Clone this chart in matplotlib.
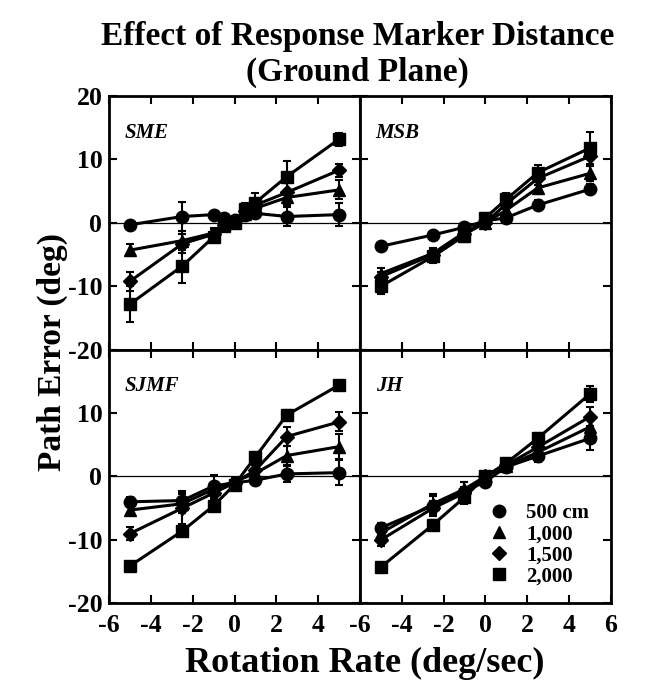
import matplotlib.pyplot as plt
from matplotlib.lines import Line2D

x_sme = [-5, -2.5, -1, -0.5, 0, 0.5, 1, 2.5, 5]
x_std = [-5, -2.5, -1, 0, 1, 2.5, 5]

labels = ['500 cm', '1,000', '1,500', '2,000']
markers = ['o', '^', 'D', 's']
msizes = [9, 9, 7, 8.5]

# path error (deg), one list per marker distance
sme = [[-0.3, 1.0, 1.3, 0.8, 0.4, 1.2, 1.5, 1.0, 1.3],
       [-4.3, -2.8, -1.6, -0.4, 0.2, 1.4, 2.3, 4.0, 5.2],
       [-9.2, -3.3, -1.8, -0.4, 0.3, 1.8, 2.8, 4.8, 8.3],
       [-12.8, -6.8, -2.2, -0.5, 0.0, 2.2, 3.2, 7.3, 13.2]]
sme_err = [[0.5, 2.3, 0.6, 0.5, 0.5, 0.6, 0.8, 1.5, 1.8],
           [1.0, 1.5, 0.8, 0.6, 0.6, 0.6, 0.8, 1.2, 1.5],
           [1.5, 1.5, 0.8, 0.6, 0.6, 0.8, 1.0, 1.5, 1.0],
           [2.8, 2.7, 0.8, 0.6, 0.6, 1.0, 1.5, 2.5, 1.0]]

msb = [[-3.7, -1.9, -0.7, 0.3, 0.8, 2.8, 5.3],
       [-8.0, -4.8, -1.5, 0.0, 2.0, 5.5, 7.8],
       [-8.5, -5.0, -1.8, 0.0, 3.0, 7.0, 10.5],
       [-10.0, -5.3, -2.0, 0.8, 3.7, 7.9, 11.8]]
msb_err = [[0.5, 0.6, 0.6, 0.6, 0.6, 0.8, 0.8],
           [0.8, 0.8, 0.8, 0.6, 0.8, 1.0, 1.2],
           [0.8, 0.8, 0.8, 0.6, 0.8, 1.0, 1.5],
           [1.2, 1.0, 1.0, 0.8, 1.0, 1.2, 2.5]]

sjmf = [[-4.0, -3.8, -1.5, -1.0, -0.6, 0.4, 0.6],
        [-5.3, -4.3, -2.0, -0.8, 0.5, 3.3, 4.7],
        [-9.0, -5.0, -2.6, -1.0, 1.0, 6.3, 8.6],
        [-14.1, -8.6, -4.6, -1.3, 3.1, 9.7, 14.4]]
sjmf_err = [[0.8, 1.5, 1.8, 0.6, 0.6, 1.2, 2.0],
            [0.8, 1.5, 1.0, 0.6, 0.6, 1.5, 2.0],
            [1.0, 2.5, 1.0, 0.6, 0.8, 1.5, 1.5],
            [0.6, 0.8, 0.8, 0.6, 0.8, 0.8, 0.6]]

jh = [[-8.1, -4.6, -2.4, -0.8, 1.5, 3.2, 6.0],
      [-8.9, -4.3, -2.0, 0.0, 1.6, 3.8, 7.8],
      [-10.0, -5.0, -2.6, 0.0, 1.8, 4.6, 9.4],
      [-14.3, -7.6, -3.3, 0.0, 2.1, 6.0, 13.0]]
jh_err = [[0.8, 1.5, 1.5, 0.6, 0.6, 1.0, 1.8],
          [0.8, 1.5, 1.2, 0.6, 0.6, 1.0, 1.5],
          [1.0, 1.2, 1.0, 0.6, 0.6, 1.0, 1.5],
          [0.6, 0.8, 1.0, 0.6, 0.6, 0.8, 1.2]]

panels = [('SME', x_sme, sme, sme_err),
          ('MSB', x_std, msb, msb_err),
          ('SJMF', x_std, sjmf, sjmf_err),
          ('JH', x_std, jh, jh_err)]

plt.rcParams['font.family'] = 'Liberation Serif'
plt.rcParams['font.weight'] = 'bold'

fig, axes = plt.subplots(2, 2, figsize=(6.66, 6.91), dpi=100)
fig.subplots_adjust(left=0.164, right=0.917, top=0.861, bottom=0.127,
                    wspace=0, hspace=0)

for k, (name, xs, ys, errs) in enumerate(panels):
    ax = axes.flat[k]
    ax.axhline(0, color='black', lw=0.9, zorder=1)
    for i in range(4):
        ax.errorbar(xs, ys[i], yerr=errs[i], color='black', lw=2.2,
                    marker=markers[i], ms=msizes[i], capsize=3,
                    elinewidth=1.5, capthick=1.5, zorder=3)
    ax.set_xlim(-6, 6)
    ax.set_ylim(-20, 20)
    ax.text(0.063, 0.835, name, transform=ax.transAxes, fontsize=15,
            style='italic', fontweight='bold')
    ax.tick_params(direction='in', top=True, right=True, length=6,
                   width=1.5, labelsize=18.5, pad=5)
    ax.tick_params(axis='x', pad=8)
    for sp in ax.spines.values():
        sp.set_linewidth(2)
    ax.set_xticks([-6, -4, -2, 0, 2, 4, 6])
    ax.set_yticks([-20, -10, 0, 10, 20])
    col = k % 2
    row = k // 2
    if row == 0:
        ax.set_xticklabels([])
    elif col == 0:
        ax.set_xticklabels(['-6', '-4', '-2', '0', '2', '4', ''])
    else:
        ax.set_xticklabels(['-6', '-4', '-2', '0', '2', '4', '6'])
    if col == 1:
        ax.set_yticklabels([])
    elif row == 0:
        ax.set_yticklabels(['-20', '-10', '0', '10', '20'])
    else:
        ax.set_yticklabels(['-20', '-10', '0', '10', ''])

handles = [Line2D([], [], color='black', marker=markers[i], ms=msizes[i],
                  linestyle='none') for i in range(4)]
axes[1, 1].legend(handles, labels, loc='lower right', frameon=False,
                  fontsize=15, handletextpad=0.3, labelspacing=0.05,
                  borderaxespad=0.4, bbox_to_anchor=(0.98, 0.0))

fig.text(0.537, 0.947, 'Effect of Response Marker Distance', ha='center',
         va='center', fontsize=24, fontweight='bold')
fig.text(0.537, 0.895, '(Ground Plane)', ha='center', va='center',
         fontsize=24, fontweight='bold')
fig.text(0.548, 0.04, 'Rotation Rate (deg/sec)', ha='center', va='center',
         fontsize=26, fontweight='bold')
fig.text(0.078, 0.49, 'Path Error (deg)', ha='center', va='center',
         rotation=90, fontsize=24, fontweight='bold')

plt.savefig('out.png')
